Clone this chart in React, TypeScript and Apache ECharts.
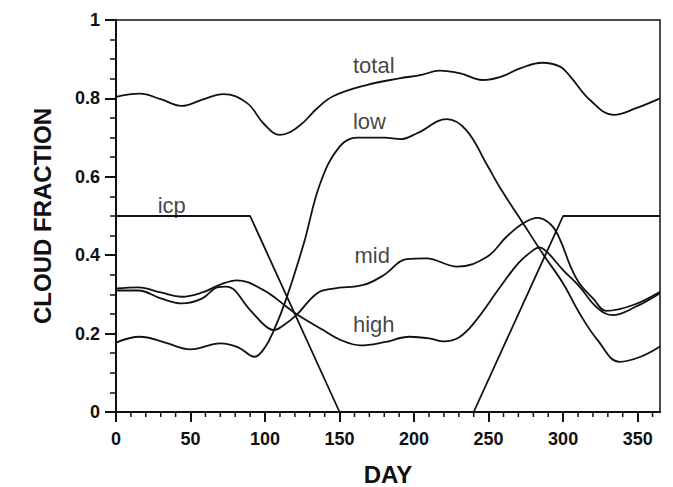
import React, { useEffect, useRef } from 'react';
import * as echarts from 'echarts';

const xTicks = [0, 50, 100, 150, 200, 250, 300, 350];
const xMinorTicks = [10, 20, 30, 40, 60, 70, 80, 90, 110, 120, 130, 140, 160, 170, 180, 190, 210, 220, 230, 240, 260, 270, 280, 290, 310, 320, 330, 340, 360];

const total = [
  [0, 0.804], [16, 0.812], [30, 0.798], [44, 0.781], [58, 0.797], [72, 0.811], [88, 0.788],
  [99, 0.736], [110, 0.707], [123, 0.73], [135, 0.775], [146, 0.806], [168, 0.834], [190, 0.851],
  [205, 0.86], [217, 0.871], [231, 0.864], [246, 0.847], [258, 0.855], [272, 0.878], [286, 0.891],
  [298, 0.881], [305, 0.855], [318, 0.796], [334, 0.758], [349, 0.775], [365, 0.8],
];

const low = [
  [0, 0.177], [16, 0.192], [33, 0.177], [50, 0.16], [70, 0.175], [82, 0.165], [93, 0.141],
  [100, 0.165], [106, 0.209], [114, 0.286], [126, 0.43], [137, 0.583], [150, 0.677], [162, 0.7],
  [180, 0.7], [191, 0.696], [202, 0.711], [222, 0.747], [235, 0.719], [249, 0.63], [258, 0.57],
  [273, 0.482], [287, 0.4], [300, 0.328], [311, 0.252], [323, 0.184], [338, 0.128], [352, 0.141],
  [365, 0.167],
];

const mid = [
  [0, 0.31], [15, 0.31], [30, 0.29], [44, 0.277], [58, 0.29], [68, 0.318], [74, 0.32], [90, 0.26],
  [100, 0.22], [106, 0.209], [112, 0.22], [121, 0.247], [135, 0.303], [146, 0.315], [166, 0.324],
  [180, 0.35], [195, 0.39], [208, 0.392], [229, 0.371], [249, 0.396], [262, 0.447], [273, 0.481],
  [283, 0.495], [292, 0.477], [298, 0.439], [305, 0.371], [311, 0.328], [320, 0.29], [329, 0.258],
  [347, 0.273], [365, 0.307],
];

const high = [
  [0, 0.315], [15, 0.318], [30, 0.305], [44, 0.294], [58, 0.305], [70, 0.325], [81, 0.336],
  [99, 0.311], [114, 0.27], [121, 0.25], [139, 0.209], [150, 0.185], [164, 0.17], [180, 0.178],
  [197, 0.192], [210, 0.188], [220, 0.18], [230, 0.19], [240, 0.226], [258, 0.32], [270, 0.38],
  [280, 0.413], [284, 0.42], [289, 0.409], [300, 0.362], [311, 0.32], [322, 0.269], [333, 0.247],
  [349, 0.269], [365, 0.303],
];

const icp = [
  [0, 0.5], [90, 0.5], [150, 0], [240, 0], [300, 0.5], [365, 0.5],
];

const curveLabels = [
  [159, 0.883, 'total'],
  [159, 0.74, 'low'],
  [160, 0.398, 'mid'],
  [159, 0.224, 'high'],
  [28, 0.526, 'icp'],
];

const FONT = '"Liberation Sans", Arial, Helvetica, sans-serif';
const INK = '#111';

export default function App() {
  const ref = useRef<HTMLDivElement>(null);
  useEffect(() => {
    if (!ref.current) return;
    const chart = echarts.init(ref.current, undefined, { renderer: 'svg' });
    const lineStyle = { color: INK, width: 1.8 };
    const mkLine = (name: string, data: number[][], smooth: number | boolean) => ({
      name,
      type: 'line',
      data,
      smooth,
      showSymbol: false,
      symbol: 'none',
      lineStyle,
      z: 3,
    });
    chart.setOption({
      animation: false,
      backgroundColor: '#fff',
      grid: {
        left: 116, right: 13, top: 20, bottom: 75,
        show: true, borderColor: INK, borderWidth: 1.5,
        outerBoundsMode: 'none',
      },
      xAxis: {
        type: 'value', min: 0, max: 365,
        name: 'DAY', nameLocation: 'middle', nameGap: 50,
        nameTextStyle: { fontFamily: FONT, fontSize: 24, fontWeight: 'bold', color: INK },
        axisLine: { show: true, onZero: false, lineStyle: { color: INK, width: 2 } },
        axisTick: { show: true, inside: false, length: 10, customValues: xTicks, lineStyle: { color: INK, width: 2 } },
        axisLabel: { show: true, customValues: xTicks, margin: 18, fontFamily: FONT, fontSize: 18, fontWeight: 'bold', color: INK },
        splitLine: { show: false },
        z: 5,
      },
      yAxis: {
        type: 'value', min: 0, max: 1, interval: 0.2,
        name: 'CLOUD FRACTION', nameLocation: 'middle', nameGap: 62,
        nameTextStyle: { fontFamily: FONT, fontSize: 24, fontWeight: 'bold', color: INK },
        axisLine: { show: true, onZero: false, lineStyle: { color: INK, width: 2 } },
        axisTick: { show: true, inside: false, length: 11, lineStyle: { color: INK, width: 2 } },
        minorTick: { show: true, splitNumber: 4, length: 6, lineStyle: { color: INK, width: 1.5 } },
        axisLabel: { margin: 16, fontFamily: FONT, fontSize: 18, fontWeight: 'bold', color: INK },
        splitLine: { show: false },
      },
      series: [
        mkLine('total', total, 0.4),
        mkLine('low', low, 0.4),
        mkLine('mid', mid, 0.4),
        mkLine('high', high, 0.4),
        mkLine('icp', icp, false),
        {
          name: 'minorTicks',
          type: 'custom',
          silent: true,
          clip: false,
          data: xMinorTicks.map((v) => [v, 0]),
          encode: { x: 0, y: 1 },
          renderItem: (params: any, api: any) => {
            const p = api.coord([api.value(0), 0]);
            return {
              type: 'line',
              shape: { x1: p[0], y1: p[1], x2: p[0], y2: p[1] + 5 },
              style: { stroke: INK, lineWidth: 1.5 },
            };
          },
          z: 5,
        },
        {
          name: 'labels',
          type: 'scatter',
          data: curveLabels,
          symbolSize: 0,
          silent: true,
          label: {
            show: true,
            position: 'right',
            distance: 0,
            formatter: (p: any) => p.data[2],
            fontFamily: FONT,
            fontSize: 22,
            color: INK,
          },
          z: 4,
        },
      ],
    });
    return () => chart.dispose();
  }, []);
  return (
    <div
      ref={ref}
      style={{ position: 'fixed', left: 0, top: 0, width: 673, height: 487, background: '#fff' }}
    />
  );
}
